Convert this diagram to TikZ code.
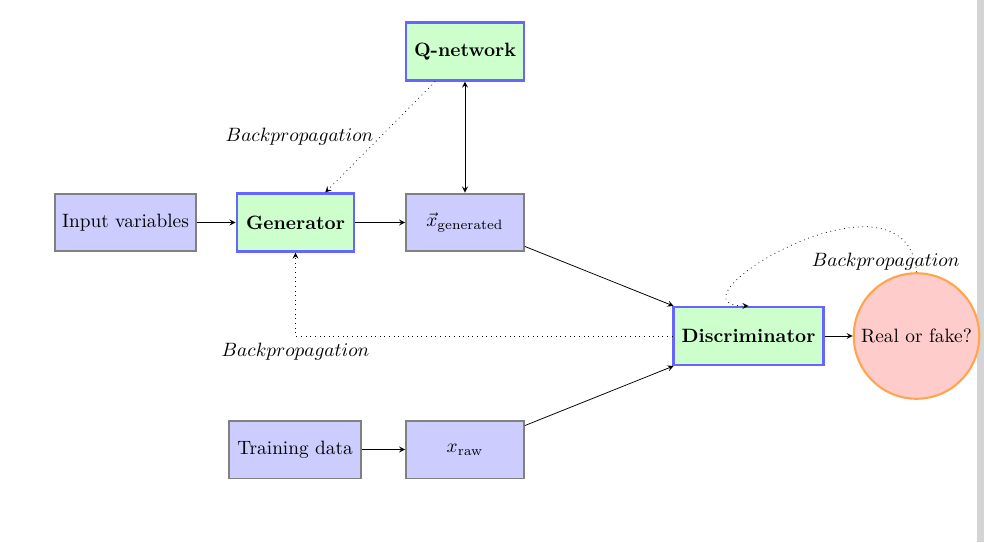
\documentclass[tikz,border=0pt]{standalone}
\usetikzlibrary{arrows,positioning}
\begin{document}
\begin{tikzpicture}[x=0.518pt,y=-0.518pt,>=stealth,
  box/.style={draw=black!50,line width=1pt,fill=blue!20,minimum height=30pt,minimum width=61pt,inner sep=3.5pt},
  netbox/.style={draw=blue!60,line width=1.1pt,fill=green!20,minimum height=30pt,minimum width=61pt,font=\bfseries,inner sep=3.5pt},
  outcirc/.style={circle,draw=orange!70,line width=1.1pt,fill=red!20,minimum size=65pt,inner sep=0pt},
  conn/.style={->},
  backprop/.style={->,dotted}]
\useasboundingbox (0,0) rectangle (984,542);
\fill[black!17] (977,0) rectangle (984,542);
\node[box,minimum width=73.5pt] (input) at (125.5,222.5) {Input variables};
\node[netbox] (gen) at (295.5,222.5) {Generator};
\node[box] (xgen) at (465,222.5) {$\vec{x}_{\mathrm{generated}}$};
\node[netbox] (q) at (465,51.5) {Q-network};
\node[netbox,minimum width=77.7pt] (disc) at (748.5,336) {Discriminator};
\node[outcirc] (circ) at (916.5,336) {Real or fake?};
\node[box,minimum width=68pt] (train) at (295,449.5) {Training data};
\node[box] (xraw) at (465,449.5) {$x_{\mathrm{raw}}$};
\draw[conn] (input) -- (gen);
\draw[conn] (gen) -- (xgen);
\draw[<->] (q) -- (xgen);
\draw[conn] (xgen) -- (disc);
\draw[conn] (train) -- (xraw);
\draw[conn] (xraw) -- (disc);
\draw[conn] (disc) -- (circ);
\draw[backprop] (q) -- node[midway,left] {$Backpropagation$} (gen);
\draw[backprop] (disc) -| node[pos=0.5,below] {$Backpropagation$} (gen);
\draw[backprop] (circ.north) to[out=95,in=180,out distance=62pt,in distance=48pt]
  node[at start,xshift=-16pt,yshift=5.7pt] {$Backpropagation$} (disc.north);
\end{tikzpicture}
\end{document}
